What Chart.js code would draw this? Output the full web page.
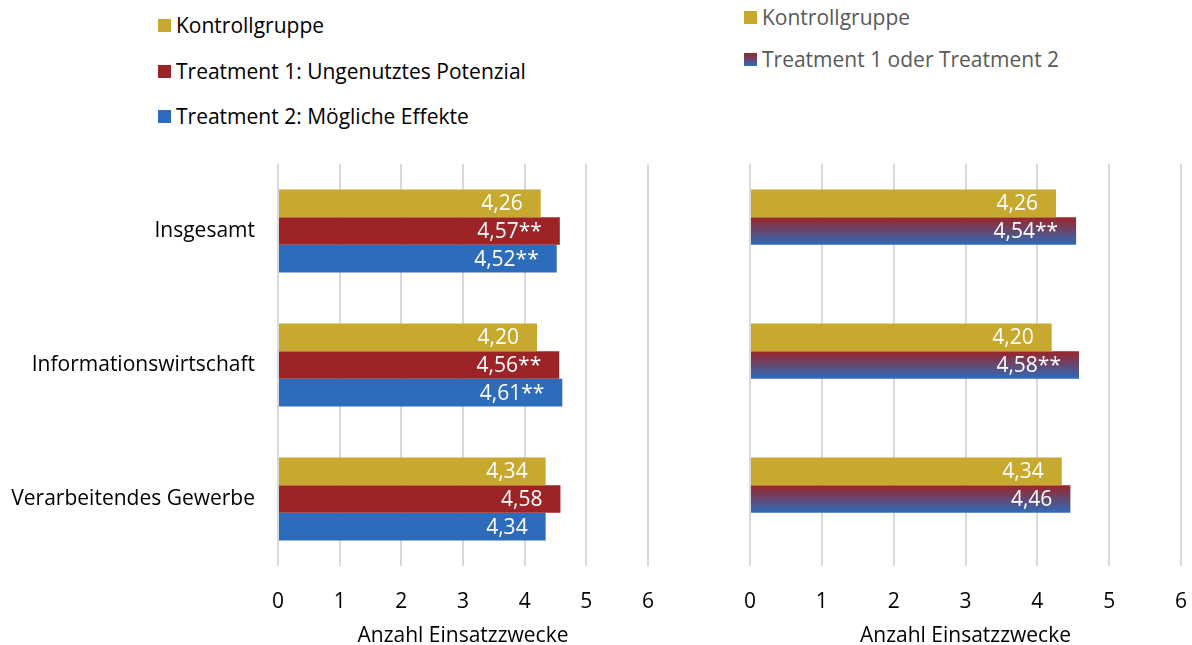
<!DOCTYPE html>
<html>
<head>
<meta charset="utf-8">
<script src="https://cdn.jsdelivr.net/npm/chart.js@4.4.0/dist/chart.umd.min.js"></script>
<style>
  body { margin: 0; width: 1192px; height: 645px; background: #fff; position: relative; overflow: hidden;
         font-family: "Open Sans", Lato, sans-serif; }
  .box { position: absolute; }
  .leg { position: absolute; font-size: 21px; }
  .leg .item { position: absolute; display: flex; align-items: center; white-space: nowrap; transform: translateY(-50%); }
  .sw { width: 13px; height: 13px; margin-right: 5px; flex-shrink: 0; }
</style>
</head>
<body>

<div class="leg" style="left:158px; top:0; color:#000;">
  <div class="item" style="top:25px;"><span class="sw" style="background:#c8a92f"></span>Kontrollgruppe</div>
  <div class="item" style="top:71px;"><span class="sw" style="background:#9c2427"></span>Treatment 1: Ungenutztes Potenzial</div>
  <div class="item" style="top:116px;"><span class="sw" style="background:#2d6cbb"></span>Treatment 2: Mögliche Effekte</div>
</div>
<div class="leg" style="left:744px; top:0; color:#595959;">
  <div class="item" style="top:17px;"><span class="sw" style="background:#c8a92f"></span>Kontrollgruppe</div>
  <div class="item" style="top:59px;"><span class="sw" style="background:linear-gradient(#9c2427,#2d6cbb)"></span>Treatment 1 oder Treatment 2</div>
</div>

<div class="box" style="left:0; top:140px; width:700px; height:505px;"><canvas id="links"></canvas></div>
<div class="box" style="left:700px; top:140px; width:492px; height:505px;"><canvas id="rechts"></canvas></div>

<script>
const kategorien = ["Insgesamt", "Informationswirtschaft", "Verarbeitendes Gewerbe"];
const xTicks = [0, 1, 2, 3, 4, 5, 6];

// linke Grafik
const kontrolle = [4.26, 4.20, 4.34];
const treatment1 = [4.57, 4.56, 4.58];
const treatment1Sig = ["**", "**", ""];
const treatment2 = [4.52, 4.61, 4.34];
const treatment2Sig = ["**", "**", ""];

// rechte Grafik
const kontrolleR = [4.26, 4.20, 4.34];
const treatmentBeide = [4.54, 4.58, 4.46];
const treatmentBeideSig = ["**", "**", ""];

const GOLD = "#c8a92f";
const ROT = "#9c2427";
const BLAU = "#2d6cbb";
const CAT_PCT = 0.62;
const FONT = "'Open Sans', Lato, sans-serif";
const GROESSE = 21;

function zahl(v) {
  return v.toFixed(2).replace(".", ",");
}

// Balken-Beschriftung innen am Ende, weiß
const beschriftung = {
  id: "beschriftung",
  afterDatasetsDraw(chart) {
    const ctx = chart.ctx;
    ctx.save();
    ctx.font = GROESSE + "px " + FONT;
    ctx.fillStyle = "#fff";
    ctx.textAlign = "right";
    ctx.textBaseline = "middle";
    chart.data.datasets.forEach((ds, i) => {
      const meta = chart.getDatasetMeta(i);
      meta.data.forEach((bar, j) => {
        if (ds.data[j] == null) return;
        ctx.fillText(zahl(ds.data[j]) + (ds.sig ? ds.sig[j] : ""), bar.x - 18, bar.y + 1);
      });
    });
    ctx.restore();
  }
};

// Verlauf rot -> blau für jeden Balken einzeln
function verlauf(context) {
  const chart = context.chart;
  const y = chart.scales.y;
  if (!y || context.dataIndex == null) return ROT;
  const cat = (y.bottom - y.top) / chart.data.labels.length;
  const dicke = cat * CAT_PCT / 3;
  const mitte = y.getPixelForValue(context.dataIndex);
  const oben = mitte - cat * CAT_PCT / 2 + dicke;
  if (!isFinite(oben) || !isFinite(dicke) || dicke <= 0) return ROT;
  const g = chart.ctx.createLinearGradient(0, oben, 0, oben + dicke);
  g.addColorStop(0, ROT);
  g.addColorStop(1, BLAU);
  return g;
}

function optionen(yBreite, zeigeLabels, rechtsPad) {
  return {
    indexAxis: "y",
    responsive: true,
    maintainAspectRatio: false,
    animation: false,
    layout: { padding: { top: 24, right: rechtsPad, bottom: 0, left: 0 } },
    plugins: { legend: { display: false }, tooltip: { enabled: false } },
    datasets: { bar: { categoryPercentage: CAT_PCT, barPercentage: 1 } },
    scales: {
      x: {
        min: 0, max: 6,
        afterBuildTicks: s => { s.ticks = xTicks.map(v => ({ value: v })); },
        afterFit: s => { s.height = 79; s.paddingLeft = 0; s.paddingRight = 0; },
        border: { display: false },
        grid: { color: "#d9d9d9", lineWidth: 2, drawTicks: false },
        ticks: { color: "#000", padding: 23, font: { size: GROESSE, family: FONT } },
        title: { display: true, text: "Anzahl Einsatzzwecke", color: "#000",
                 font: { size: GROESSE, family: FONT, lineHeight: 0.85 }, padding: { top: 0, bottom: 0 } }
      },
      y: {
        afterFit: s => { s.width = yBreite; s.paddingTop = 0; s.paddingBottom = 0; },
        border: { display: false },
        grid: { display: false, drawTicks: false },
        ticks: { display: zeigeLabels, color: "#000", padding: 23, font: { size: GROESSE, family: FONT } }
      }
    }
  };
}

new Chart(document.getElementById("links"), {
  type: "bar",
  data: {
    labels: kategorien,
    datasets: [
      { label: "Kontrollgruppe", data: kontrolle, backgroundColor: GOLD },
      { label: "Treatment 1: Ungenutztes Potenzial", data: treatment1, sig: treatment1Sig, backgroundColor: ROT },
      { label: "Treatment 2: Mögliche Effekte", data: treatment2, sig: treatment2Sig, backgroundColor: BLAU }
    ]
  },
  options: optionen(278, true, 52),
  plugins: [beschriftung]
});

new Chart(document.getElementById("rechts"), {
  type: "bar",
  data: {
    labels: kategorien,
    datasets: [
      { label: "Kontrollgruppe", data: kontrolleR, backgroundColor: GOLD },
      { label: "Treatment 1 oder Treatment 2", data: treatmentBeide, sig: treatmentBeideSig, backgroundColor: verlauf },
      { label: "", data: [null, null, null] }
    ]
  },
  options: optionen(50, false, 11),
  plugins: [beschriftung]
});
</script>
</body>
</html>
